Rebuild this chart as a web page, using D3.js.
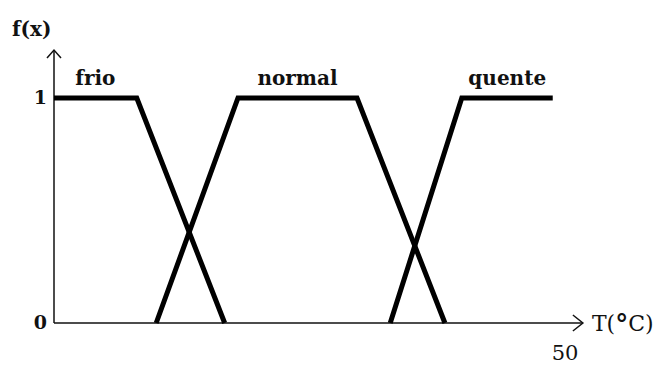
<!DOCTYPE html>
<html>
<head>
<meta charset="utf-8">
<script src="https://cdn.jsdelivr.net/npm/d3@7"></script>
<style>
  html, body { margin: 0; padding: 0; background: #fff; }
  svg { display: block; }
</style>
</head>
<body>
<svg id="chart" width="663" height="365"></svg>
<script>
// ---- data ----
const setNames = ["frio", "normal", "quente"];
const frioT   = [0, 8.1, 16.7];
const frioF   = [1, 1, 0];
const normalT = [10, 18, 29.65, 38.25];
const normalF = [0, 1, 1, 0];
const quenteT = [32.9, 39.9, 48.8];
const quenteF = [0, 1, 1];
const yTickValues = [0, 1];
const xTickValues = [50];
const xAxisTitle = "T(°C)";
const yAxisTitle = "f(x)";

// ---- layout ----
const serif = "'DejaVu Serif', serif";
const svg = d3.select("#chart");
const x = d3.scaleLinear().domain([0, 50]).range([54, 565]);
const y = d3.scaleLinear().domain([0, 1]).range([323, 98]);
const xEnd = 51.75;   // arrow tip along T
const yEnd = 1.213;   // arrow tip along f(x)

const series = [
  { name: setNames[0], t: frioT, f: frioF },
  { name: setNames[1], t: normalT, f: normalF },
  { name: setNames[2], t: quenteT, f: quenteF }
];

// axes
const axisG = svg.append("g").attr("stroke", "#111").attr("stroke-width", 1.5).attr("fill", "none");
axisG.append("line").attr("x1", x(0)).attr("y1", y(0)).attr("x2", x(xEnd)).attr("y2", y(0));
axisG.append("line").attr("x1", x(0)).attr("y1", y(0)).attr("x2", x(0)).attr("y2", y(yEnd));
// arrowheads (open chevrons)
const xt = x(xEnd), yt = y(0);
axisG.append("path").attr("d", `M${xt - 10},${yt - 8} L${xt},${yt} L${xt - 10},${yt + 8}`);
const ax = x(0), ay = y(yEnd);
axisG.append("path").attr("d", `M${ax - 7},${ay + 8} L${ax},${ay} L${ax + 7},${ay + 8}`);

// membership lines
const line = d3.line().x(d => x(d[0])).y(d => y(d[1]));
svg.append("g").selectAll("path")
  .data(series)
  .join("path")
  .attr("d", s => line(s.t.map((t, i) => [t, s.f[i]])))
  .attr("fill", "none")
  .attr("stroke", "#000")
  .attr("stroke-width", 5)
  .attr("stroke-linejoin", "miter")
  .attr("stroke-linecap", "butt");

// set labels centred over flat top
svg.append("g").selectAll("text")
  .data(series)
  .join("text")
  .attr("x", s => {
    const tops = s.t.filter((t, i) => s.f[i] === 1);
    return x((d3.min(tops) + d3.max(tops)) / 2);
  })
  .attr("y", y(1) - 13)
  .attr("text-anchor", "middle")
  .attr("font-family", "DejaVu Serif")
  .attr("font-weight", "bold")
  .attr("font-size", 20)
  .attr("fill", "#111")
  .text(s => s.name);

// y tick labels
svg.append("g").selectAll("text")
  .data(yTickValues)
  .join("text")
  .attr("x", x(0) - 7)
  .attr("y", d => y(d) + 6)
  .attr("text-anchor", "end")
  .attr("font-family", "DejaVu Serif")
  .attr("font-weight", "bold")
  .attr("font-size", 19)
  .attr("fill", "#111")
  .text(d => d);

// x tick label
svg.append("g").selectAll("text")
  .data(xTickValues)
  .join("text")
  .attr("x", d => x(d))
  .attr("y", y(0) + 37)
  .attr("text-anchor", "middle")
  .attr("font-family", serif)
  .attr("font-size", 21)
  .attr("fill", "#111")
  .text(d => d);

// axis titles
const tt = svg.append("text")
  .attr("x", x(xEnd) + 9)
  .attr("y", y(0) + 8)
  .attr("font-family", serif)
  .attr("font-size", 22)
  .attr("fill", "#111");
tt.append("tspan").text(xAxisTitle.slice(0, 2));
tt.append("tspan").attr("font-weight", "bold").attr("font-size", 26).attr("dy", 2).text(xAxisTitle.slice(2, 3));
tt.append("tspan").attr("dy", -2).text(xAxisTitle.slice(3));

svg.append("text")
  .attr("x", 12)
  .attr("y", 36)
  .attr("font-family", "DejaVu Serif")
  .attr("font-weight", "bold")
  .attr("font-size", 20)
  .attr("fill", "#111")
  .text(yAxisTitle);
</script>
</body>
</html>
